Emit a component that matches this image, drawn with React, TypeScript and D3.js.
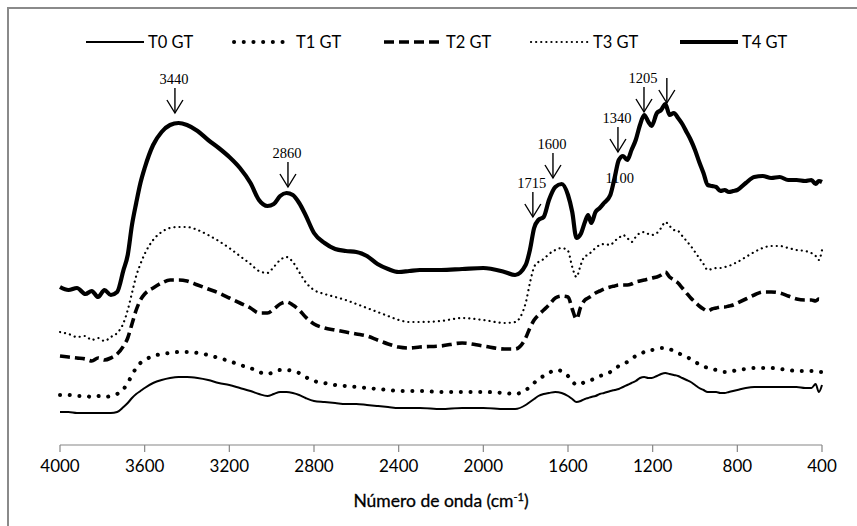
import * as d3 from 'd3';

const WIDTH = 857;
const HEIGHT = 526;
const MARGIN = { top: 45, right: 35, bottom: 81, left: 60 };

// wavenumber grid (cm-1), shared by every spectrum
const wavenumbers = [
  4000, 3960, 3920, 3880, 3850, 3820, 3790, 3760, 3730, 3700,
  3680, 3660, 3640, 3620, 3600, 3560, 3520, 3480, 3440, 3400,
  3350, 3300, 3250, 3200, 3150, 3100, 3060, 3020, 2990, 2960,
  2930, 2900, 2870, 2840, 2800, 2750, 2700, 2650, 2600, 2550,
  2500, 2450, 2400, 2350, 2300, 2200, 2100, 2000, 1900, 1850,
  1800, 1780, 1760, 1740, 1715, 1690, 1660, 1630, 1600, 1580,
  1560, 1540, 1520, 1505, 1490, 1470, 1450, 1430, 1400, 1380,
  1360, 1340, 1320, 1300, 1280, 1260, 1240, 1220, 1205, 1180,
  1160, 1140, 1120, 1100, 1080, 1060, 1040, 1020, 1000, 980,
  960, 940, 920, 900, 880, 860, 840, 820, 800, 760,
  720, 680, 640, 600, 560, 520, 480, 450, 430, 415, 400,
];

// intensities, arbitrary units (curves are stacked with an offset)
const t0 = [
  33, 33, 32, 32, 32, 32, 32, 32, 33, 38,
  42, 47, 51, 54, 57, 62, 65, 67, 68, 68,
  67, 65, 62, 60, 57, 54, 51, 49, 51, 53,
  53, 52, 50, 47, 44, 43, 42, 41, 41, 40,
  39, 38, 37, 37, 37, 36, 37, 37, 36, 36,
  40, 43, 46, 49, 51, 52, 53, 52, 49, 46,
  43, 44, 46, 47, 48, 49, 51, 52, 54, 55,
  56, 58, 60, 62, 64, 67, 68, 67, 67, 69,
  71, 72, 71, 70, 69, 67, 65, 63, 60, 57,
  55, 53, 53, 53, 52, 52, 53, 54, 55, 57,
  58, 58, 58, 58, 58, 58, 57, 57, 61, 53, 60,
];
const t1 = [
  50, 50, 49, 49, 48, 49, 48, 49, 51, 56,
  62, 70, 77, 82, 85, 89, 91, 92, 93, 93,
  92, 90, 87, 84, 80, 77, 73, 71, 73, 75,
  75, 74, 72, 68, 64, 62, 60, 59, 58, 57,
  56, 55, 54, 54, 54, 53, 53, 53, 52, 51,
  55, 58, 62, 66, 69, 72, 75, 74, 69, 64,
  60, 61, 63, 64, 65, 67, 69, 70, 73, 76,
  79, 81, 83, 86, 89, 91, 93, 95, 95, 96,
  97, 97, 96, 94, 92, 90, 88, 86, 83, 81,
  79, 77, 76, 75, 74, 73, 73, 74, 75, 76,
  77, 77, 77, 76, 75, 74, 74, 74, 73, 73, 73,
];
const t2 = [
  89, 88, 87, 86, 84, 87, 85, 87, 91, 99,
  107, 121, 135, 145, 151, 157, 162, 165, 165, 164,
  160, 156, 152, 147, 142, 137, 132, 132, 136, 141,
  143, 140, 135, 128, 121, 117, 115, 113, 111, 109,
  105, 101, 98, 97, 98, 99, 102, 99, 96, 96,
  107, 117, 125, 130, 135, 140, 147, 149, 148, 136,
  126, 138, 145, 147, 149, 152, 154, 156, 158, 159,
  160, 160, 160, 161, 163, 164, 165, 166, 167, 168,
  170, 173, 168, 165, 162, 157, 152, 147, 143, 139,
  136, 134, 136, 137, 138, 138, 139, 140, 142, 146,
  150, 153, 153, 152, 149, 146, 145, 145, 144, 146, 145,
];
const t3 = [
  113, 111, 108, 109, 105, 107, 104, 108, 112, 122,
  135, 152, 169, 181, 191, 205, 213, 217, 218, 218,
  215, 210, 204, 197, 189, 181, 174, 172, 178, 185,
  188, 183, 173, 163, 155, 151, 148, 145, 141, 137,
  133, 129, 125, 123, 123, 124, 127, 125, 122, 123,
  142, 162, 178, 183, 186, 191, 195, 197, 194, 178,
  168, 180, 189, 190, 193, 197, 200, 201, 200, 204,
  207, 210, 207, 203, 208, 212, 213, 211, 210, 212,
  217, 223, 219, 215, 214, 209, 204, 199, 193, 187,
  181, 175, 176, 177, 177, 178, 179, 181, 183, 188,
  193, 197, 199, 199, 197, 195, 194, 192, 189, 185, 195,
];
const t4 = [
  158, 155, 157, 151, 154, 148, 155, 150, 153, 175,
  190, 220, 242, 262, 277, 300, 313, 320, 322, 320,
  314, 305, 297, 288, 277, 262, 245, 239, 241, 249,
  252, 250, 242, 230, 212, 202, 196, 194, 193, 189,
  181, 176, 173, 174, 175, 175, 176, 177, 173, 170,
  180, 195, 217, 225, 228, 245, 258, 261, 250, 233,
  207, 211, 223, 230, 222, 233, 237, 242, 250, 267,
  285, 289, 285, 295, 305, 320, 330, 323, 319, 332,
  335, 341, 330, 332, 327, 321, 313, 305, 295, 283,
  272, 260, 259, 258, 254, 255, 253, 254, 255, 262,
  268, 269, 267, 268, 265, 265, 264, 265, 261, 264, 263,
];

const seriesNames = ['T0 GT', 'T1 GT', 'T2 GT', 'T3 GT', 'T4 GT'];
const seriesValues = [t0, t1, t2, t3, t4];

const xTicks = [4000, 3600, 3200, 2800, 2400, 2000, 1600, 1200, 800, 400];

// peak marks: label, wavenumber of the arrow, intensity at its tip
const peakLabels = ['3440', '2860', '1715', '1600', '1340', '1205', ''];
const peakWaves = [3457, 2923, 1766, 1671, 1364, 1241, 1133];
const peakTips = [332, 258, 228, 267, 293, 333, 342];

const STYLES = [
  { width: 2, dash: null, cap: 'butt' },
  { width: 4, dash: '0.1 9.6', cap: 'round' },
  { width: 3.6, dash: '10 5', cap: 'butt' },
  { width: 2.2, dash: '0.1 5', cap: 'round' },
  { width: 4.2, dash: null, cap: 'butt' },
];

const SANS = 'Lato, "Open Sans", sans-serif';
const SERIF = '"Liberation Serif", "DejaVu Serif", serif';

export default function App() {
  const innerW = WIDTH - MARGIN.left - MARGIN.right;
  const innerH = HEIGHT - MARGIN.top - MARGIN.bottom;

  const x = d3.scaleLinear().domain([4000, 400]).range([MARGIN.left, MARGIN.left + innerW]);
  const y = d3.scaleLinear().domain([0, 400]).range([MARGIN.top + innerH, MARGIN.top]);

  const line = d3
    .line<number>()
    .x((_, i) => x(wavenumbers[i]))
    .y((d) => y(d))
    .curve(d3.curveMonotoneX);

  const axisY = MARGIN.top + innerH;
  const legendY = 42;
  const legendX = [86, 234, 384, 531, 680];

  return (
    <div style={{ position: 'fixed', left: 0, top: 0 }}>
      <svg width={WIDTH} height={HEIGHT} style={{ display: 'block', background: '#fff' }}>
        <rect x={8} y={8} width={WIDTH + 20} height={HEIGHT + 20} fill="none" stroke="#8a8a8a" strokeWidth={2} />

        {/* x axis */}
        <line x1={x(4000)} x2={x(400)} y1={axisY} y2={axisY} stroke="#868686" strokeWidth={1.2} />
        {xTicks.map((t) => (
          <g key={t}>
            <line x1={x(t)} x2={x(t)} y1={axisY} y2={axisY + 7} stroke="#868686" strokeWidth={1.2} />
            <text x={x(t)} y={axisY + 27} textAnchor="middle" fontFamily={SANS} fontSize={17} fill="#000">
              {t}
            </text>
          </g>
        ))}
        <text
          x={(x(4000) + x(400)) / 2}
          y={axisY + 62}
          textAnchor="middle"
          fontFamily={SANS}
          fontSize={17.5}
          fill="#000"
          stroke="#000"
          strokeWidth={0.3}
        >
          Número de onda (cm
          <tspan dy={-6} fontSize={11}>-1</tspan>
          <tspan dy={6}>)</tspan>
        </text>

        {/* spectra */}
        {seriesValues.map((vals, i) => (
          <path
            key={seriesNames[i]}
            d={line(vals) || ''}
            fill="none"
            stroke="#000"
            strokeWidth={STYLES[i].width}
            strokeDasharray={STYLES[i].dash || undefined}
            strokeLinecap={STYLES[i].cap as any}
            strokeLinejoin="round"
          />
        ))}

        {/* peak arrows */}
        {peakWaves.map((w, i) => {
          const px = x(w);
          const tip = y(peakTips[i]);
          const top = tip - 25;
          return (
            <g key={i} stroke="#000" strokeWidth={1.4} fill="none">
              <line x1={px} x2={px} y1={top} y2={tip} />
              <polyline points={`${px - 8},${tip - 13} ${px},${tip} ${px + 8},${tip - 13}`} />
              {peakLabels[i] && (
                <text
                  x={px - 1}
                  y={top - 4}
                  textAnchor="middle"
                  fontFamily={SERIF}
                  fontSize={14.5}
                  fill="#000"
                  stroke="none"
                >
                  {peakLabels[i]}
                </text>
              )}
            </g>
          );
        })}
        <text x={x(1355)} y={183} textAnchor="middle" fontFamily={SERIF} fontSize={14.5} fill="#000">
          1100
        </text>

        {/* legend */}
        {seriesNames.map((name, i) => (
          <g key={name}>
            <line
              x1={legendX[i]}
              x2={legendX[i] + 58}
              y1={legendY}
              y2={legendY}
              stroke="#000"
              strokeWidth={STYLES[i].width}
              strokeDasharray={STYLES[i].dash || undefined}
              strokeLinecap={STYLES[i].cap as any}
            />
            <text x={legendX[i] + 62} y={legendY + 6} fontFamily={SANS} fontSize={16.5} fill="#000">
              {name}
            </text>
          </g>
        ))}
      </svg>
    </div>
  );
}
